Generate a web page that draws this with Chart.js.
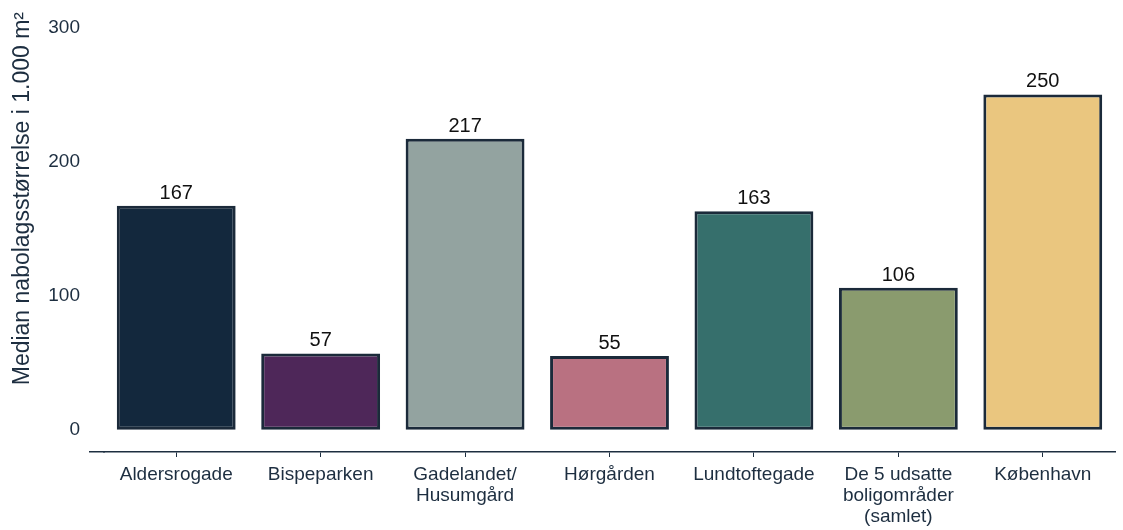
<!DOCTYPE html>
<html>
<head>
<meta charset="utf-8">
<script src="https://cdn.jsdelivr.net/npm/chart.js@4"></script>
<style>
  html, body { margin: 0; padding: 0; background: #fff; }
  #wrap { width: 1123px; height: 530px; }
</style>
</head>
<body>
<div id="wrap"><canvas id="chart" width="1123" height="530"></canvas></div>
<script>
/* =========================
   DATA
========================= */

const categories = [
  "Aldersrogade",
  "Bispeparken",
  ["Gadelandet/", "Husumgård"],
  "Hørgården",
  "Lundtoftegade",
  ["De 5 udsatte", "boligområder", "(samlet)"],
  "København",
];

const medianValues = [167, 57, 217, 55, 163, 106, 250];

const yTicks = [0, 100, 200, 300];

const yTitle = "Median nabolagsstørrelse i 1.000 m²";

const barColors = [
  "#13283d",
  "#4e2759",
  "#93a3a0",
  "#b97181",
  "#366f6c",
  "#8a9b6e",
  "#eac67f",
];

const inkColor = "#1d2e40";
const fontFamily = "'Liberation Sans', Arial, sans-serif";

/* =========================
   PLUGINS
========================= */

// value labels on top of each bar
const valueLabels = {
  id: "valueLabels",
  afterDatasetsDraw(chart) {
    const ctx = chart.ctx;
    const meta = chart.getDatasetMeta(0);
    ctx.save();
    ctx.font = "20px " + fontFamily;
    ctx.fillStyle = "#111";
    ctx.textAlign = "center";
    ctx.textBaseline = "alphabetic";
    meta.data.forEach((bar, i) => {
      ctx.fillText(String(medianValues[i]), bar.x, bar.y - 7);
    });
    ctx.restore();
  },
};

// rotated y axis title + small axis line stub on the left
const yAxisTitle = {
  id: "yAxisTitle",
  afterDraw(chart) {
    const ctx = chart.ctx;
    const y = chart.scales.y;
    const area = chart.chartArea;
    const mid = (y.getPixelForValue(0) + y.getPixelForValue(300)) / 2 - 30;
    const lineY = Math.round(chart.scales.x.top - 0.75) + 0.75;
    ctx.save();
    ctx.strokeStyle = inkColor;
    ctx.lineWidth = 1.5;
    ctx.beginPath();
    ctx.moveTo(area.left - 15, lineY);
    ctx.lineTo(area.left + 1, lineY);
    ctx.stroke();

    ctx.translate(23, mid);
    ctx.rotate(-Math.PI / 2);
    ctx.font = "23px " + fontFamily;
    ctx.fillStyle = inkColor;
    ctx.textAlign = "center";
    ctx.textBaseline = "middle";
    ctx.fillText(yTitle, 0, 0);
    ctx.restore();
  },
};

/* =========================
   CHART
========================= */

new Chart(document.getElementById("chart"), {
  type: "bar",
  data: {
    labels: categories,
    datasets: [
      {
        data: medianValues,
        backgroundColor: barColors,
        borderColor: "#1b2a3a",
        borderWidth: 3,
        borderSkipped: false,
        barPercentage: 0.823,
        categoryPercentage: 1,
      },
    ],
  },
  options: {
    responsive: false,
    animation: false,
    layout: { padding: { top: 24, right: 8, left: 0, bottom: 0 } },
    plugins: {
      legend: { display: false },
      tooltip: { enabled: false },
    },
    scales: {
      x: {
        grid: {
          display: true,
          offset: false,
          drawOnChartArea: false,
          drawTicks: true,
          tickLength: 5,
          color: inkColor,
          lineWidth: 1,
        },
        border: { display: true, color: inkColor, width: 1.5 },
        ticks: {
          color: inkColor,
          padding: 8,
          maxRotation: 0,
          autoSkip: false,
          font: { family: fontFamily, size: 19, lineHeight: 1.08 },
        },
        afterFit(scale) {
          scale.height = 78;
        },
      },
      y: {
        min: -16.5,
        max: 300,
        grid: { display: false },
        border: { display: false },
        ticks: {
          color: inkColor,
          padding: 16,
          font: { family: fontFamily, size: 19 },
        },
        afterBuildTicks(scale) {
          scale.ticks = yTicks.map((v) => ({ value: v }));
        },
        afterFit(scale) {
          scale.width = 104;
        },
      },
    },
  },
  plugins: [valueLabels, yAxisTitle],
});
</script>
</body>
</html>
